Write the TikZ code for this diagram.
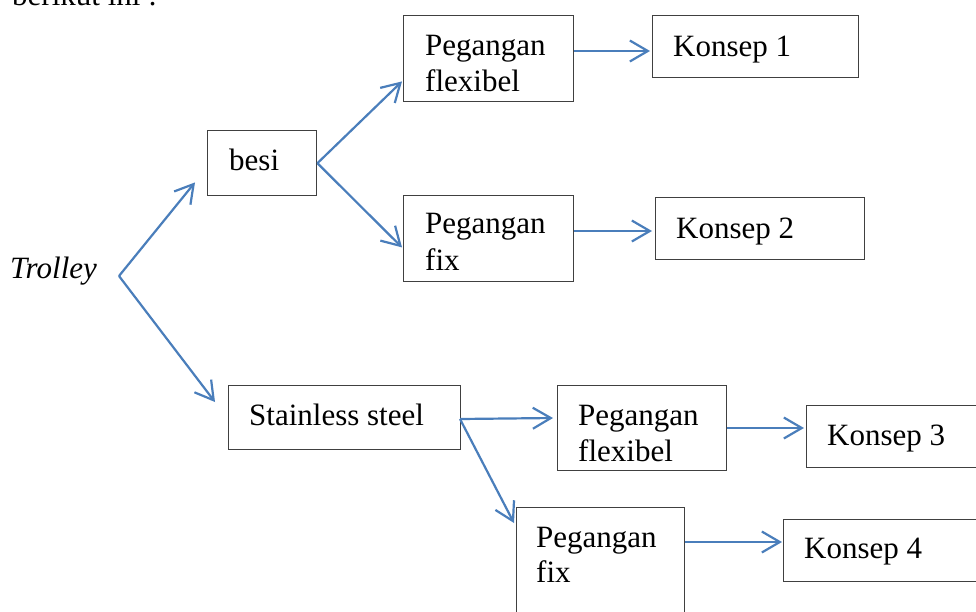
\documentclass[tikz,border=0pt]{standalone}
\usepackage{fontspec}
\setmainfont{Liberation Serif}
\newfontfamily\tnr{Liberation Serif}
\usetikzlibrary{arrows.meta}
\definecolor{arrowblue}{RGB}{74,126,187}
\definecolor{boxgray}{RGB}{64,64,64}
\tikzset{
  box/.style={draw=boxgray, line width=1.4pt, anchor=north west, inner sep=0pt},
  txt/.style={anchor=base west, inner sep=0pt, font=\tnr\fontsize{31}{36}\selectfont},
  conn/.style={draw=arrowblue, line width=2.2pt, -{Straight Barb[length=18pt,width=21pt,line width=2.2pt]}},
}
\begin{document}
\begin{tikzpicture}[x=1pt,y=-1pt]
\useasboundingbox (0,0) rectangle (976,611);
\clip (0,0) rectangle (976,611);
% partially visible heading
\node[txt] (head) at (12,5) {berikut ini :};
% boxes
\node[box, minimum width=109pt, minimum height=65pt] (besi) at (207,130) {};
\node[box, minimum width=170pt, minimum height=86pt] (pf1) at (403,15) {};
\node[box, minimum width=206pt, minimum height=62pt] (k1) at (652,15) {};
\node[box, minimum width=170pt, minimum height=86pt] (px1) at (403,195) {};
\node[box, minimum width=209pt, minimum height=62pt] (k2) at (655,197) {};
\node[box, minimum width=232pt, minimum height=64pt] (ss) at (228,385) {};
\node[box, minimum width=169pt, minimum height=85pt] (pf2) at (557,385) {};
\node[box, minimum width=200pt, minimum height=62pt] (k3) at (806,405) {};
\node[box, minimum width=168pt, minimum height=120pt] (px2) at (516,507) {};
\node[box, minimum width=220pt, minimum height=62pt] (k4) at (783,519) {};
% texts
\node[txt, font=\tnr\fontsize{31}{36}\selectfont\itshape] (trolley) at (10,278) {Trolley};
\node[txt] (tbesi) at (229,170) {besi};
\node[txt] (tpf1a) at (425,55) {Pegangan};
\node[txt] (tpf1b) at (425,91) {flexibel};
\node[txt] (tk1) at (673,56) {Konsep 1};
\node[txt] (tpx1a) at (425,233) {Pegangan};
\node[txt] (tpx1b) at (425,270) {fix};
\node[txt] (tk2) at (676,238) {Konsep 2};
\node[txt] (tss) at (249,425) {Stainless steel};
\node[txt] (tpf2a) at (578,425) {Pegangan};
\node[txt] (tpf2b) at (578,461) {flexibel};
\node[txt] (tk3) at (827,445) {Konsep 3};
\node[txt] (tpx2a) at (536,547) {Pegangan};
\node[txt] (tpx2b) at (536,582) {fix};
\node[txt] (tk4) at (804,558) {Konsep 4};
% connectors
\coordinate (tv) at (119,276);
\coordinate (sv) at (460,419);
\draw[conn] (tv) -- ([xshift=-12pt,yshift=14pt]besi.south west);
\draw[conn] (tv) -- ([xshift=-13pt,yshift=-17pt]ss.north west);
\draw[conn] (besi.east) -- ([xshift=-1pt,yshift=21pt]pf1.south west);
\draw[conn] (besi.east) -- ([xshift=-1pt,yshift=35pt]px1.south west);
\draw[conn] ([yshift=-36pt]pf1.north east) -- ([yshift=-36pt,xshift=-2pt]k1.north west);
\draw[conn] ([yshift=-36pt]px1.north east) -- ([yshift=-34pt,xshift=-3pt]k2.north west);
\draw[conn] (sv) -- ([yshift=-33pt,xshift=-4pt]pf2.north west);
\draw[conn] (sv) -- ([yshift=-16pt,xshift=-2pt]px2.north west);
\draw[conn] ([yshift=-43pt]pf2.north east) -- ([yshift=-23pt,xshift=-2pt]k3.north west);
\draw[conn] ([yshift=-35pt]px2.north east) -- ([yshift=-23pt,xshift=-1pt]k4.north west);
\end{tikzpicture}
\end{document}
